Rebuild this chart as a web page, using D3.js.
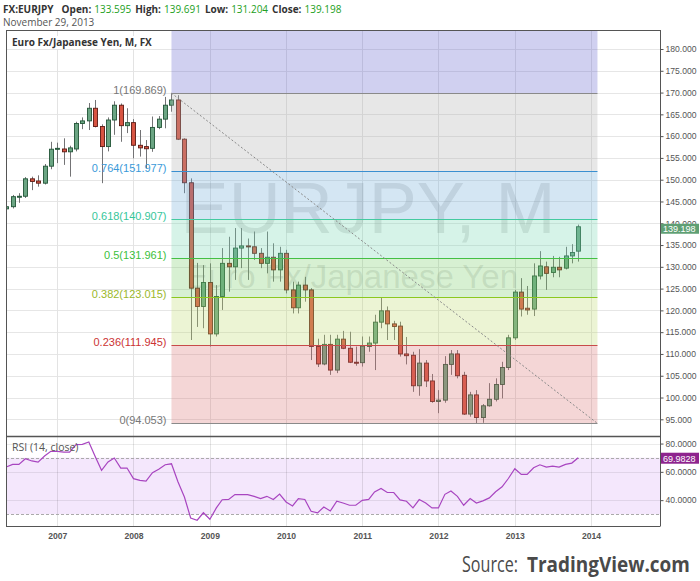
<!DOCTYPE html>
<html>
<head>
<meta charset="utf-8">
<script src="https://cdnjs.cloudflare.com/ajax/libs/d3/7.8.5/d3.min.js"></script>
<style>
  body { margin: 0; background: #fff; }
  svg text { font-family: "Liberation Sans", Arial, sans-serif; }
</style>
</head>
<body>
<svg id="chart" width="700" height="581"></svg>
<script>
// Monthly EURJPY candles, May 2006 .. Nov 2013 ////////////////////////////////////////////////
var months = d3.timeMonth.range(new Date(2006, 4, 1), new Date(2013, 11, 1));

var open = [143.3,143.8,146.1,146.2,150.2,149.7,149.2,153.1,
  157.0,157.05,156.4,157.05,162.9,163.5,166.4,162.2,157.6,163.7,167.1,162.4,
  163.1,157.9,157.6,157.2,162.0,163.9,167.1,168.3,159.3,149.3,125.1,120.9,
  126.4,114.6,123.2,130.8,130.0,134.3,134.8,134.6,133.1,130.8,132.2,129.3,
  133.1,124.7,120.6,125.8,124.7,111.7,107.7,112.2,106.3,113.4,111.3,108.1,
  108.0,111.7,112.5,117.3,119.9,116.9,116.4,110.0,109.7,102.7,107.9,103.8,
  99.1,99.4,107.6,110.0,105.1,96.2,100.6,95.4,98.1,99.6,103.0,106.9,
  113.7,124.2,120.5,120.3,127.9,130.0,128.7,129.9,129.7,132.5,133.595];
var high = [144.6,146.5,146.9,150.6,150.7,151.0,153.6,158.7,
  158.5,159.5,157.8,163.3,164.3,167.6,168.3,162.7,164.3,168.0,167.5,166.4,
  163.9,161.4,159.1,164.5,164.6,169.0,169.869,169.4,159.5,150.3,130.9,130.4,
  130.8,125.8,134.3,136.9,138.9,138.9,136.5,138.1,134.3,138.1,135.4,134.6,
  133.9,126.6,126.6,127.7,125.1,113.5,114.4,114.4,114.4,115.3,115.1,111.7,
  114.0,114.0,119.0,123.0,120.9,117.6,117.4,113.9,110.5,111.1,108.6,105.4,
  101.7,109.5,110.9,110.9,105.9,101.3,101.7,98.5,103.3,104.4,108.2,114.4,
  124.7,127.4,125.6,130.8,133.6,131.2,132.5,132.3,134.6,135.2,139.691];
var low = [142.3,143.4,144.7,145.8,147.6,148.4,148.9,152.4,
  153.8,153.4,150.7,156.5,161.6,161.4,162.0,149.2,156.5,160.3,158.7,160.7,
  154.9,155.3,152.6,156.4,161.6,161.8,165.6,159.1,146.9,113.2,116.2,115.9,
  111.7,114.0,120.1,124.3,127.0,129.7,127.0,131.6,129.7,128.5,126.6,126.6,
  123.9,119.3,119.3,122.0,108.6,107.0,107.4,105.2,105.6,111.1,107.9,107.3,
  107.1,110.5,106.3,115.9,113.2,113.2,109.4,107.6,101.3,100.4,102.4,98.8,
  96.4,98.8,105.2,104.4,96.0,95.6,94.053,94.2,97.9,99.1,99.8,106.3,
  113.2,118.6,119.0,118.7,127.1,124.7,127.6,127.6,129.4,130.8,131.204];
var close = [143.8,146.1,146.2,150.2,149.6,149.2,153.1,157.0,
  157.2,156.4,157.3,162.9,163.5,166.4,162.2,157.6,163.7,167.1,162.4,163.1,
  157.9,157.3,157.1,162.0,163.9,167.1,168.3,159.3,149.3,125.1,120.9,126.4,
  114.6,123.2,130.8,130.0,134.3,134.8,134.6,133.1,130.8,132.2,129.3,133.1,
  124.7,120.6,125.8,124.7,111.7,107.7,112.2,106.3,113.4,111.3,108.1,108.0,
  111.8,112.5,117.3,119.9,116.9,116.3,110.0,109.6,102.7,107.9,103.8,99.1,
  99.4,107.6,110.0,105.0,96.2,100.6,95.4,98.1,99.6,103.0,106.9,113.7,
  124.2,120.3,120.1,127.9,130.2,128.5,129.9,129.3,132.5,133.3,139.198];
var rsi = [63.4,65.3,65.3,69.3,67.7,66.9,71.2,74.5,
  74.5,74,74,79.2,79.4,81.1,71,61.1,67,69.8,62.7,62.7,
  55.2,54,53.4,59.4,61.9,65,65.7,53,42.2,27.4,25.8,31.1,
  26.5,34.5,40.3,40.5,43.9,43.9,43.9,42.7,41.1,42.7,40.5,44.3,
  38.7,35.9,41.1,40.5,32.1,31,35.2,32.3,39.2,38,36.4,36.4,
  39.9,40.5,45.8,48.2,45.4,45.4,40.2,39.2,34.5,40.4,38,34.5,
  34.5,44.1,46.5,42.7,36.4,41.1,38,39.5,41.6,45.9,49.4,55.3,
  62.2,58.2,58.2,62.9,65,63.4,64.1,63.4,65.3,66.2,69.9828];

// Fibonacci retracement drawn from the Jul 2008 high to the Jul 2012 low
var fibRatios = [0, 0.236, 0.382, 0.5, 0.618, 0.764, 1, 1.618];
var fibPrices = [94.053, 111.945, 123.015, 131.961, 140.907, 151.977, 169.869, 216.723];
var fibLine   = ['#8a8a8a', '#c84a4a', '#8cc81e', '#44c044', '#44caa0', '#3a8fd0', '#8a8a8a', '#6262cd'];
var fibText   = ['#777777', '#cc3333', '#9bb82a', '#3cbf3c', '#36c69a', '#3a9ad9', '#777777', '#6262cd'];
var fibFill   = ['#da7676', '#c0da70', '#7acd69', '#76d7b2', '#70acd7', '#afafaf', '#6262cd'];
var fibStart = new Date(2008, 6, 1), fibEnd = new Date(2014, 1, 1);

var priceTicks = d3.range(95, 181, 5);
var rsiTicks = [40, 60, 80];
var yearTicks = d3.timeYear.range(new Date(2007, 0, 1), new Date(2015, 0, 1));

// Geometry //////////////////////////////////////////////////////////////////////////////////
var L = 6, R = 660, T = 30, DIV = 436, B = 526;
var svg = d3.select('#chart');

var x = d3.scaleTime().domain([new Date(2007, 0, 1), new Date(2014, 0, 1)]).range([57.3, 591]);
var y = d3.scaleLinear().domain([95, 180]).range([419.3, 49]);
var yr = d3.scaleLinear().domain([30, 70]).range([514.3, 457.7]);

svg.append('clipPath').attr('id', 'clipMain').append('rect')
  .attr('x', L).attr('y', T).attr('width', R - L).attr('height', DIV - T);
svg.append('clipPath').attr('id', 'clipRsi').append('rect')
  .attr('x', L).attr('y', DIV).attr('width', R - L).attr('height', B - DIV);

// Header: laid out piece by piece ////////////////////////////////////////////////////////////
var n = close.length - 1;
var headParts = [['FX:EURJPY', '#333', 'bold', 8], ['Open:', '#333', 'bold', 3],
  [open[n].toFixed(3), '#22a022', 'normal', 4], ['High:', '#333', 'bold', 3],
  [high[n].toFixed(3), '#22a022', 'normal', 4], ['Low:', '#333', 'bold', 3],
  [low[n].toFixed(3), '#22a022', 'normal', 4], ['Close:', '#333', 'bold', 3],
  [close[n].toFixed(3), '#22a022', 'normal', 0]];
var hx = 3;
headParts.forEach(function(p) {
  var t = svg.append('text').attr('x', hx).attr('y', 13).attr('fill', p[1]).attr('font-weight', p[2])
    .style('font-family', '"Open Sans", sans-serif').style('font-size', '10px').text(p[0]);
  hx += t.node().getComputedTextLength() + p[3];
});
svg.append('text').attr('x', 3).attr('y', 25.5).attr('fill', '#555')
  .style('font-family', '"Open Sans", sans-serif').style('font-size', '10px')
  .text('November 29, 2013');

// Main pane /////////////////////////////////////////////////////////////////////////////////
var main = svg.append('g').attr('clip-path', 'url(#clipMain)');

main.selectAll('.hgrid').data(priceTicks).enter().append('line')
  .attr('x1', L).attr('x2', R)
  .attr('y1', function(d) { return Math.round(y(d)) + 0.5 })
  .attr('y2', function(d) { return Math.round(y(d)) + 0.5 })
  .attr('stroke', '#e6e6e6');
main.selectAll('.vgrid').data(yearTicks).enter().append('line')
  .attr('x1', function(d) { return Math.round(x(d)) + 0.5 })
  .attr('x2', function(d) { return Math.round(x(d)) + 0.5 })
  .attr('y1', T).attr('y2', DIV).attr('stroke', '#e3e3e3');

// watermark
main.append('text').attr('x', 368).attr('y', 233).attr('text-anchor', 'middle')
  .attr('fill', '#707070').attr('fill-opacity', 0.2).style('font-size', '72px')
  .text('EURJPY, M');
main.append('text').attr('x', 352).attr('y', 288).attr('text-anchor', 'middle')
  .attr('fill', '#707070').attr('fill-opacity', 0.2).style('font-size', '33px')
  .text('Euro Fx/Japanese Yen');

// candles
var idx = d3.range(months.length);
var candles = main.append('g');
candles.selectAll('.wick').data(idx).enter().append('line')
  .attr('x1', function(i) { return Math.round(x(months[i])) + 0.5 })
  .attr('x2', function(i) { return Math.round(x(months[i])) + 0.5 })
  .attr('y1', function(i) { return y(high[i]) })
  .attr('y2', function(i) { return y(low[i]) })
  .attr('stroke', '#737375');
candles.selectAll('.body').data(idx).enter().append('rect')
  .attr('x', function(i) { return Math.round(x(months[i])) - 1.5 })
  .attr('y', function(i) { return y(Math.max(open[i], close[i])) })
  .attr('width', 4)
  .attr('height', function(i) { return Math.max(1, Math.abs(y(open[i]) - y(close[i]))) })
  .attr('fill', function(i) { return close[i] >= open[i] ? '#6ba583' : '#d75442' })
  .attr('stroke', function(i) { return close[i] >= open[i] ? '#225437' : '#5b1a13' })
  .attr('stroke-width', 0.9);

// fibonacci zones, lines and labels
var fx1 = x(fibStart), fx2 = x(fibEnd);
var zones = d3.range(fibFill.length);
main.selectAll('.zone').data(zones).enter().append('rect')
  .attr('x', fx1).attr('width', fx2 - fx1)
  .attr('y', function(i) { return y(fibPrices[i + 1]) })
  .attr('height', function(i) { return y(fibPrices[i]) - y(fibPrices[i + 1]) })
  .attr('fill', function(i) { return fibFill[i] }).attr('fill-opacity', 0.3);
// only the levels that fall inside the visible price range get a line and a label
var fl = d3.range(fibRatios.length).filter(function(i) { return fibPrices[i] <= y.invert(T) });
main.selectAll('.fibline').data(fl).enter().append('line')
  .attr('x1', fx1).attr('x2', fx2)
  .attr('y1', function(i) { return Math.round(y(fibPrices[i])) + 0.5 })
  .attr('y2', function(i) { return Math.round(y(fibPrices[i])) + 0.5 })
  .attr('stroke', function(i) { return fibLine[i] }).attr('stroke-width', 1.2);
main.selectAll('.fiblabel').data(fl).enter().append('text')
  .attr('x', fx1 - 5).attr('y', function(i) { return y(fibPrices[i]) + 1 })
  .attr('text-anchor', 'end').attr('fill', function(i) { return fibText[i] })
  .style('font-size', '11px')
  .text(function(i) { return fibRatios[i] + '(' + fibPrices[i].toFixed(3) + ')' });

// trend line of the retracement
main.append('line')
  .attr('x1', fx1).attr('y1', y(fibPrices[6]))
  .attr('x2', fx2).attr('y2', y(fibPrices[0]))
  .attr('stroke', '#8a8a8a').attr('stroke-dasharray', '2,2');

// chart title box
svg.append('rect').attr('x', L + 2).attr('y', 36).attr('width', 140).attr('height', 13).attr('fill', '#fff');
svg.append('text').attr('x', 12).attr('y', 46).attr('fill', '#333').attr('font-weight', 'bold')
  .style('font-family', '"Open Sans", sans-serif').style('font-size', '10px')
  .text('Euro Fx/Japanese Yen, M, FX');

// RSI pane //////////////////////////////////////////////////////////////////////////////////
var pane = svg.append('g').attr('clip-path', 'url(#clipRsi)');
pane.append('rect').attr('x', L).attr('width', R - L)
  .attr('y', yr(70)).attr('height', yr(30) - yr(70)).attr('fill', '#f4e7fc');
pane.selectAll('.rgrid').data(rsiTicks).enter().append('line')
  .attr('x1', L).attr('x2', R)
  .attr('y1', function(d) { return Math.round(yr(d)) + 0.5 })
  .attr('y2', function(d) { return Math.round(yr(d)) + 0.5 })
  .attr('stroke', '#000').attr('stroke-opacity', 0.08);
pane.selectAll('.vgrid').data(yearTicks).enter().append('line')
  .attr('x1', function(d) { return Math.round(x(d)) + 0.5 })
  .attr('x2', function(d) { return Math.round(x(d)) + 0.5 })
  .attr('y1', DIV).attr('y2', B).attr('stroke', '#000').attr('stroke-opacity', 0.1);
pane.selectAll('.band').data([70, 30]).enter().append('line')
  .attr('x1', L).attr('x2', R)
  .attr('y1', function(d) { return Math.round(yr(d)) + 0.5 })
  .attr('y2', function(d) { return Math.round(yr(d)) + 0.5 })
  .attr('stroke', '#aaa').attr('stroke-dasharray', '3,2');
pane.append('path').datum(idx)
  .attr('d', d3.line().x(function(i) { return x(months[i]) }).y(function(i) { return yr(rsi[i]) }))
  .attr('fill', 'none').attr('stroke', '#a845c0').attr('stroke-width', 1.2);
pane.append('text').attr('x', 12).attr('y', 451).attr('fill', '#555')
  .style('font-family', '"Open Sans", sans-serif').style('font-size', '10.5px')
  .text('RSI (14, close)');

// Frame and axes ////////////////////////////////////////////////////////////////////////////
var frame = svg.append('g').attr('stroke', '#555').attr('fill', 'none');
frame.append('line').attr('x1', L + 0.5).attr('x2', L + 0.5).attr('y1', T).attr('y2', B + 0.5);
frame.append('line').attr('x1', L).attr('x2', R).attr('y1', T + 0.5).attr('y2', T + 0.5);
frame.append('line').attr('x1', L).attr('x2', R).attr('y1', DIV + 0.5).attr('y2', DIV + 0.5).attr('stroke-width', 1.5);
frame.append('line').attr('x1', L).attr('x2', R).attr('y1', B + 0.5).attr('y2', B + 0.5);

var yAxis = svg.append('g').attr('transform', 'translate(' + (R + 0.5) + ',0)')
  .call(d3.axisRight(y).tickValues(priceTicks).tickSize(3).tickPadding(2).tickFormat(d3.format('.3f')));
var rAxis = svg.append('g').attr('transform', 'translate(' + (R + 0.5) + ',0)')
  .call(d3.axisRight(yr).tickValues(rsiTicks).tickSize(3).tickPadding(2).tickFormat(d3.format('.4f')));
[yAxis, rAxis].forEach(function(a) {
  a.select('.domain').remove();
  a.selectAll('line').attr('stroke', '#555');
  a.selectAll('text').attr('fill', '#555').style('font-size', '8.6px').style('font-family', '"Liberation Sans", Arial, sans-serif');
});
svg.append('line').attr('x1', R + 0.5).attr('x2', R + 0.5).attr('y1', T).attr('y2', B + 0.5).attr('stroke', '#555');

var xAxis = svg.append('g').attr('transform', 'translate(0,' + (B + 1) + ')')
  .call(d3.axisBottom(x).tickValues(yearTicks).tickSize(0).tickPadding(6).tickFormat(d3.timeFormat('%Y')));
xAxis.select('.domain').remove();
xAxis.selectAll('text').attr('fill', '#555').attr('font-weight', 'bold')
  .style('font-size', '8.6px').style('font-family', '"Liberation Sans", Arial, sans-serif');

// last value markers
var lastPrice = close[n], lastRsi = rsi[rsi.length - 1];
svg.append('rect').attr('x', R + 1).attr('y', y(lastPrice) - 3).attr('width', 38).attr('height', 10).attr('fill', '#5f9f74');
svg.append('text').attr('x', R + 3).attr('y', y(lastPrice) + 5.5).attr('fill', '#fff')
  .style('font-size', '9px').text(lastPrice.toFixed(3));
svg.append('rect').attr('x', R + 1).attr('y', yr(lastRsi) - 5).attr('width', 38).attr('height', 11).attr('fill', '#8e248e');
svg.append('text').attr('x', R + 3).attr('y', yr(lastRsi) + 4).attr('fill', '#fff')
  .style('font-size', '9px').text(lastRsi.toFixed(4));

// Source credit, squeezed horizontally to the narrow face of the original
function credit(str, x0, w, bold) {
  var t = svg.append('text').attr('x', 0).attr('y', 0).attr('fill', '#4a4a4a')
    .attr('font-weight', bold ? 'bold' : 'normal')
    .style('font-family', '"Open Sans", sans-serif').style('font-size', '22px')
    .text(str);
  var k = w / t.node().getComputedTextLength();
  t.attr('transform', 'translate(' + x0 + ',572) scale(' + k + ',1)');
}
credit('Source:', 462, 56, false);
credit('TradingView.com', 527, 163, true);
</script>
</body>
</html>
